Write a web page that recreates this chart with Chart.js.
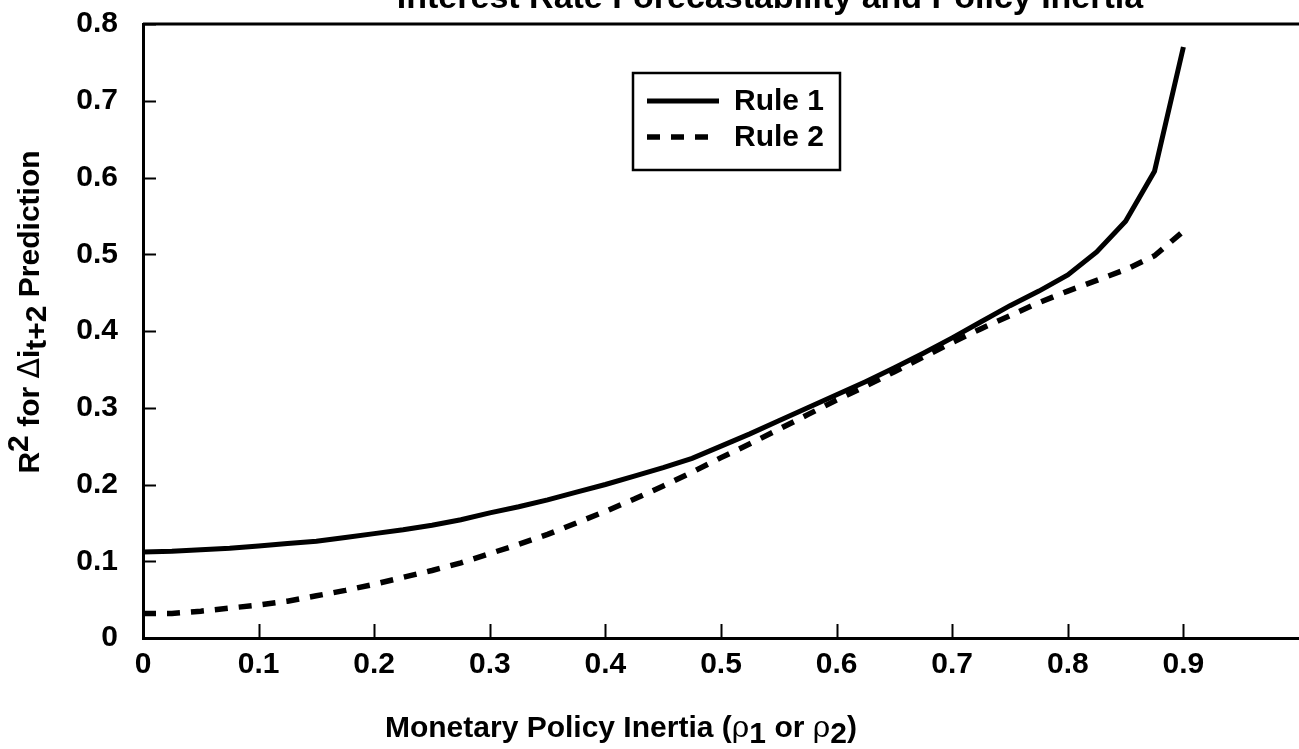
<!DOCTYPE html>
<html><head><meta charset="utf-8">
<script src="https://cdn.jsdelivr.net/npm/chart.js@4"></script>
<style>html,body{margin:0;padding:0;background:#fff;}#wrap{width:1299px;height:749px;position:relative;}</style>
</head><body><div id="wrap"><canvas id="c" width="1299" height="749"></canvas></div>
<script>
const inertia = [0,0.025,0.05,0.075,0.1,0.125,0.15,0.175,0.2,0.225,0.25,0.275,0.3,0.325,0.35,0.375,0.4,0.425,0.45,0.475,0.5,0.525,0.55,0.575,0.6,0.625,0.65,0.675,0.7,0.725,0.75,0.775,0.8,0.825,0.85,0.875,0.9];
const rule1 = [0.112,0.113,0.115,0.117,0.120,0.123,0.126,0.131,0.136,0.141,0.147,0.154,0.163,0.171,0.180,0.190,0.200,0.211,0.222,0.234,0.250,0.266,0.283,0.300,0.317,0.334,0.352,0.371,0.391,0.412,0.433,0.452,0.473,0.503,0.543,0.608,0.770];
const rule2 = [0.032,0.032,0.035,0.039,0.043,0.048,0.055,0.062,0.070,0.079,0.088,0.098,0.110,0.122,0.135,0.150,0.165,0.181,0.198,0.216,0.235,0.253,0.272,0.291,0.310,0.328,0.347,0.366,0.385,0.403,0.420,0.437,0.452,0.466,0.480,0.498,0.530];
const seriesNames = ['Rule 1','Rule 2'];
const xTicks = [0,0.1,0.2,0.3,0.4,0.5,0.6,0.7,0.8,0.9];
const yTicks = [0,0.1,0.2,0.3,0.4,0.5,0.6,0.7,0.8];
const chartTitle = 'Interest Rate Forecastability and Policy Inertia';

const FONT = '"Liberation Sans", Arial, sans-serif';
const tickFont = {family: FONT, size: 30, weight: 'bold', lineHeight: 1.2};

const decor = {
  id: 'decor',
  afterDraw(chart) {
    const ctx = chart.ctx, a = chart.chartArea;
    const xs = chart.scales.x, ys = chart.scales.y;
    ctx.save();
    ctx.strokeStyle = '#000';
    ctx.fillStyle = '#000';
    // top border
    ctx.lineWidth = 3;
    ctx.beginPath(); ctx.moveTo(a.left, a.top); ctx.lineTo(a.right, a.top); ctx.stroke();
    // inner ticks
    ctx.lineWidth = 2;
    xTicks.forEach(v => { if (v === 0) return; const px = Math.round(xs.getPixelForValue(v)) + 0.5;
      ctx.beginPath(); ctx.moveTo(px, a.bottom); ctx.lineTo(px, a.bottom - 14); ctx.stroke(); });
    yTicks.forEach(v => { if (v === 0) return; const py = Math.round(ys.getPixelForValue(v)) + 0.5;
      ctx.beginPath(); ctx.moveTo(a.left, py); ctx.lineTo(a.left + 13, py); ctx.stroke(); });
    // legend
    const lx = 633, ly = 73, lw = 207, lh = 97;
    ctx.lineWidth = 2.5;
    ctx.strokeRect(lx, ly, lw, lh);
    ctx.font = 'bold 30px ' + FONT;
    ctx.textBaseline = 'middle';
    chart.data.datasets.forEach((ds, i) => {
      const yy = ly + 28 + i * 36;
      ctx.lineWidth = ds.borderWidth;
      ctx.setLineDash(ds.borderDash || []);
      ctx.beginPath(); ctx.moveTo(lx + 14, yy); ctx.lineTo(lx + 86, yy); ctx.stroke();
      ctx.setLineDash([]);
      ctx.fillText(ds.label, lx + 101, yy + 1);
    });
    // title
    ctx.font = 'bold 34px ' + FONT;
    ctx.textAlign = 'center';
    ctx.textBaseline = 'alphabetic';
    ctx.fillText(chartTitle, 770, 8);
    // x axis title
    const B = 'bold 30px ' + FONT, G = '30px "DejaVu Serif", serif';
    const parts = [
      {t: 'Monetary Policy Inertia (', f: B, dy: 0},
      {t: 'ρ', f: G, dy: 0},
      {t: '1', f: B, dy: 6},
      {t: ' or ', f: B, dy: 0},
      {t: 'ρ', f: G, dy: 0},
      {t: '2', f: B, dy: 6},
      {t: ')', f: B, dy: 0}
    ];
    drawParts(ctx, parts, 621, 737);
    // y axis title (rotated)
    ctx.save();
    ctx.translate(39, 312);
    ctx.rotate(-Math.PI / 2);
    const yparts = [
      {t: 'R', f: B, dy: 0},
      {t: '2', f: B, dy: -11},
      {t: ' for ', f: B, dy: 0},
      {t: 'Δ', f: '30px "DejaVu Sans", sans-serif', dy: 0},
      {t: 'i', f: B, dy: 0},
      {t: 't+2', f: B, dy: 7},
      {t: ' Prediction', f: B, dy: 0}
    ];
    drawParts(ctx, yparts, 0, 0);
    ctx.restore();
    ctx.restore();
  }
};
function drawParts(ctx, parts, cx, baseY) {
  let total = 0;
  parts.forEach(p => { ctx.font = p.f; p.w = ctx.measureText(p.t).width; total += p.w; });
  let x = cx - total / 2;
  ctx.textAlign = 'left';
  ctx.textBaseline = 'alphabetic';
  parts.forEach(p => { ctx.font = p.f; ctx.fillText(p.t, x, baseY + p.dy); x += p.w; });
}

new Chart(document.getElementById('c'), {
  type: 'line',
  data: {
    datasets: [
      {label: seriesNames[0], data: inertia.map((x, i) => ({x, y: rule1[i]})), borderColor: '#000', borderWidth: 5, pointRadius: 0, tension: 0, fill: false},
      {label: seriesNames[1], data: inertia.map((x, i) => ({x, y: rule2[i]})), borderColor: '#000', borderWidth: 5.5, borderDash: [13, 11], pointRadius: 0, tension: 0, fill: false}
    ]
  },
  options: {
    responsive: false,
    animation: false,
    devicePixelRatio: 1,
    layout: {padding: {top: 24, right: 0, left: 0, bottom: 0}},
    plugins: {legend: {display: false}, title: {display: false}, tooltip: {enabled: false}},
    scales: {
      x: {
        type: 'linear', min: 0, max: 1,
        afterBuildTicks: s => { s.ticks = xTicks.map(v => ({value: v})); },
        ticks: {font: tickFont, color: '#000', padding: 9, maxRotation: 0, autoSkip: false, callback: v => String(v)},
        grid: {display: true, drawOnChartArea: false, drawTicks: false, color: 'transparent'},
        border: {display: true, color: '#000', width: 3},
        afterFit: s => { s.height = 111; s.paddingRight = 0; }
      },
      y: {
        type: 'linear', min: 0, max: 0.8,
        afterBuildTicks: s => { s.ticks = yTicks.map(v => ({value: v})); },
        ticks: {font: tickFont, color: '#000', padding: 25, callback: v => String(v)},
        grid: {display: true, drawOnChartArea: false, drawTicks: false, color: 'transparent'},
        border: {display: true, color: '#000', width: 3},
        afterFit: s => { s.width = 143; s.paddingTop = 0; s.paddingBottom = 0; }
      }
    }
  },
  plugins: [decor]
});
</script></body></html>
